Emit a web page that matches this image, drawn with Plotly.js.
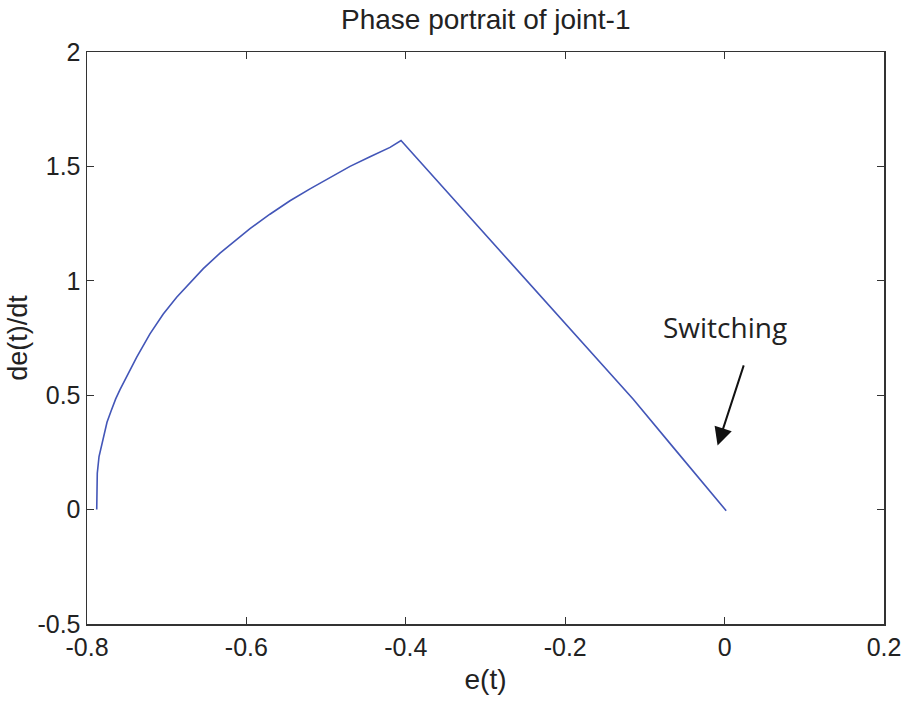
<!DOCTYPE html>
<html>
<head>
<meta charset="utf-8">
<script src="https://cdn.plot.ly/plotly-3.0.1.min.js"></script>
<style>html,body{margin:0;padding:0;background:#fff;}#chart{width:914px;height:701px;}</style>
</head>
<body>
<div id="chart"></div>
<script>
// Phase trajectory e(t) vs de(t)/dt
const errorValues = [-0.7878, -0.7878, -0.7871, -0.7849, -0.7816, -0.7783, -0.7749, -0.7699, -0.7640, -0.7586, -0.7523, -0.7376, -0.7210, -0.7043, -0.6875, -0.6708, -0.6541, -0.6331, -0.6122, -0.5955, -0.5705, -0.5453, -0.5202, -0.4951, -0.4700, -0.4449, -0.4198, -0.4060, -0.3906, -0.3655, -0.3236, -0.2818, -0.2400, -0.1981, -0.1563, -0.1146, -0.0644, -0.0309, 0.0020];
const errorRate   = [0, 0.100, 0.159, 0.232, 0.280, 0.331, 0.382, 0.430, 0.484, 0.524, 0.567, 0.666, 0.768, 0.855, 0.928, 0.990, 1.053, 1.121, 1.182, 1.228, 1.291, 1.350, 1.402, 1.452, 1.500, 1.542, 1.583, 1.613, 1.553, 1.456, 1.293, 1.131, 0.969, 0.806, 0.644, 0.482, 0.272, 0.132, -0.005];

const xTicks = [-0.8, -0.6, -0.4, -0.2, 0, 0.2];
const xTickLabels = ['-0.8', '-0.6', '-0.4', '-0.2', '0', '0.2'];
const yTicks = [-0.5, 0, 0.5, 1, 1.5, 2];
const yTickLabels = ['-0.5', '0', '0.5', '1', '1.5', '2'];

const annotationText = 'Switching';
const annotationTextPos = [0.0, 0.80];
const arrowTail = [0.0246, 0.637];
const arrowTip = [-0.0088, 0.28];

const sans = 'Liberation Sans, Arial, sans-serif';
const tickFont = {family: sans, size: 25, color: '#222'};

const trace = {
  x: errorValues,
  y: errorRate,
  type: 'scatter',
  mode: 'lines',
  line: {color: '#4356b8', width: 1.6, shape: 'linear'},
  hoverinfo: 'skip'
};

const axisCommon = {
  showline: true,
  linecolor: '#333',
  linewidth: 1.5,
  mirror: 'ticks',
  ticks: 'inside',
  ticklen: 7,
  tickwidth: 1,
  tickcolor: '#333',
  showgrid: false,
  zeroline: false,
  tickfont: tickFont,
  tickmode: 'array'
};

const layout = {
  width: 914,
  height: 701,
  margin: {l: 87, r: 30, t: 52, b: 77},
  paper_bgcolor: '#fff',
  plot_bgcolor: '#fff',
  showlegend: false,
  title: {
    text: 'Phase portrait of joint-1',
    font: {family: sans, size: 28, color: '#222'},
    x: 0.5315, xanchor: 'center', y: 0.972, yanchor: 'middle'
  },
  xaxis: Object.assign({}, axisCommon, {
    range: [-0.8, 0.2],
    tickvals: xTicks,
    ticktext: xTickLabels,
    ticklabelstandoff: 0,
    title: {text: 'e(t)', font: {family: sans, size: 28, color: '#222'}, standoff: 10}
  }),
  yaxis: Object.assign({}, axisCommon, {
    range: [-0.5, 2],
    tickvals: yTicks,
    ticktext: yTickLabels,
    title: {text: 'de(t)/dt', font: {family: sans, size: 27, color: '#222'}, standoff: 2}
  }),
  annotations: [
    {
      x: annotationTextPos[0], y: annotationTextPos[1], xref: 'x', yref: 'y',
      text: annotationText, showarrow: false,
      font: {family: 'Open Sans, Lato, sans-serif', size: 28, color: '#222'}
    },
    {
      x: arrowTip[0], y: arrowTip[1], xref: 'x', yref: 'y',
      ax: arrowTail[0], ay: arrowTail[1], axref: 'x', ayref: 'y',
      text: '', showarrow: true, arrowhead: 2, arrowsize: 1.8, arrowwidth: 2, arrowcolor: '#111'
    }
  ]
};

Plotly.newPlot('chart', [trace], layout, {displayModeBar: false, staticPlot: true});
</script>
</body>
</html>
